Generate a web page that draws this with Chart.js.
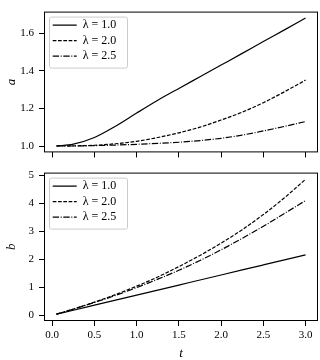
<!DOCTYPE html>
<html>
<head>
<meta charset="utf-8">
<script src="https://cdn.jsdelivr.net/npm/chart.js@4.4.1/dist/chart.umd.min.js"></script>
<style>
  html, body { margin: 0; padding: 0; background: #fff; }
  #wrap { position: relative; width: 320px; height: 360px; }
  #topBox { position: absolute; left: 0; top: 0; width: 320px; height: 164px; }
  #botBox { position: absolute; left: 0; top: 161px; width: 320px; height: 199px; }
</style>
</head>
<body>
<div id="wrap">
  <div id="topBox"><canvas id="chartA" width="320" height="164"></canvas></div>
  <div id="botBox"><canvas id="chartB" width="320" height="199"></canvas></div>
</div>
<script>
// values
const tValues = [0.05, 0.25, 0.5, 0.75, 1.0, 1.25, 1.5, 1.75, 2.0, 2.25, 2.5, 2.75, 3.0];
const lambdaLabels = ['λ = 1.0', 'λ = 2.0', 'λ = 2.5'];

const aLam10 = [1.000, 1.010, 1.045, 1.105, 1.175, 1.243, 1.306, 1.368, 1.430, 1.492, 1.555, 1.617, 1.680];
const aLam20 = [1.000, 1.001, 1.004, 1.012, 1.025, 1.045, 1.070, 1.100, 1.138, 1.180, 1.230, 1.288, 1.350];
const aLam25 = [1.000, 1.000, 1.002, 1.005, 1.009, 1.014, 1.020, 1.029, 1.041, 1.058, 1.080, 1.104, 1.130];

const bLam10 = [0.04, 0.18, 0.36, 0.54, 0.72, 0.90, 1.08, 1.26, 1.44, 1.62, 1.80, 1.98, 2.16];
const bLam20 = [0.04, 0.22, 0.47, 0.74, 1.04, 1.37, 1.74, 2.14, 2.58, 3.06, 3.60, 4.20, 4.86];
const bLam25 = [0.04, 0.22, 0.46, 0.71, 0.99, 1.29, 1.61, 1.96, 2.34, 2.75, 3.18, 3.64, 4.10];

const xTicks = [0.0, 0.5, 1.0, 1.5, 2.0, 2.5, 3.0];
const aTicks = [1.0, 1.2, 1.4, 1.6];
const bTicks = [0, 1, 2, 3, 4, 5];

const dashes = [[], [3.7, 1.6], [6.4, 1.6, 1, 1.6]];
const serif = "'Liberation Serif', 'DejaVu Serif', serif";
const lineW = 1.2;

Chart.defaults.color = '#000';
Chart.defaults.font.family = serif;

function pairs(ys) {
  return tValues.map((t, i) => ({x: t, y: ys[i]}));
}

function makeSets(series) {
  return series.map((ys, i) => ({
    label: lambdaLabels[i],
    data: pairs(ys),
    borderColor: '#000',
    backgroundColor: '#000',
    borderWidth: lineW,
    borderDash: dashes[i],
    pointRadius: 0,
    cubicInterpolationMode: 'monotone',
    fill: false
  }));
}

// legend entries keep the dash pattern of their dataset
function legendItems(chart) {
  return chart.data.datasets.map((ds, i) => ({
    text: ds.label,
    datasetIndex: i,
    fillStyle: ds.borderColor,
    strokeStyle: ds.borderColor,
    fontColor: '#000',
    lineWidth: ds.borderWidth,
    lineDash: ds.borderDash,
    pointStyle: 'line',
    hidden: false
  }));
}

// spines + legend frame
const frames = {
  id: 'frames',
  afterLayout(chart) {
    const lg = chart.legend, ca = chart.chartArea;
    lg.left = ca.left + 5.2;
    lg.top = ca.top + 4;
    lg.right = ca.right;
    lg.bottom = ca.bottom;
  },
  beforeDraw(chart) {
    const ctx = chart.ctx, ca = chart.chartArea;
    ctx.save();
    ctx.beginPath();
    ctx.roundRect(ca.left + 5.5, ca.top + 5.5, 78, 51, 2);
    ctx.fillStyle = 'rgba(255,255,255,0.8)';
    ctx.fill();
    ctx.strokeStyle = '#cccccc';
    ctx.lineWidth = 1;
    ctx.stroke();
    ctx.restore();
  },
  afterDraw(chart) {
    const ctx = chart.ctx, ca = chart.chartArea;
    ctx.save();
    ctx.strokeStyle = '#000';
    ctx.lineWidth = 1;
    ctx.strokeRect(ca.left + 0.5, ca.top + 0.5, ca.width - 1, ca.height - 1);
    ctx.restore();
  }
};

function build(id, series, yTicks, yMin, yMax, yTitle, yFmt, bottomAxis, padTop, axisH) {
  return new Chart(document.getElementById(id), {
    type: 'line',
    data: {datasets: makeSets(series)},
    options: {
      responsive: false,
      animation: false,
      layout: {padding: {top: padTop, right: 2, left: 0, bottom: 0}},
      plugins: {
        tooltip: {enabled: false},
        legend: {
          position: 'chartArea',
          align: 'start',
          labels: {
            usePointStyle: true,
            pointStyle: 'line',
            pointStyleWidth: 24,
            padding: 3.5,
            color: '#000',
            font: {family: serif, size: 12},
            generateLabels: legendItems
          }
        }
      },
      scales: {
        x: {
          type: 'linear',
          min: -0.0975,
          max: 3.1475,
          afterBuildTicks: s => { s.ticks = xTicks.map(v => ({value: v})); },
          afterFit: s => { s.height = axisH; },
          grid: {drawOnChartArea: false, drawTicks: true, tickLength: 5, color: '#000', lineWidth: 1},
          border: {display: false},
          ticks: {
            display: bottomAxis,
            padding: 2.5,
            color: '#000',
            font: {family: serif, size: 11},
            maxRotation: 0,
            callback: v => v.toFixed(1)
          },
          title: {
            display: bottomAxis,
            text: 't',
            color: '#000',
            font: {family: serif, size: 13, style: 'italic', lineHeight: 1},
            padding: {top: 0, bottom: 0}
          }
        },
        y: {
          type: 'linear',
          min: yMin,
          max: yMax,
          afterBuildTicks: s => { s.ticks = yTicks.map(v => ({value: v})); },
          afterFit: s => { s.width = 44; },
          grid: {drawOnChartArea: false, drawTicks: true, tickLength: 5, color: '#000', lineWidth: 1},
          border: {display: false},
          ticks: {
            padding: 5,
            color: '#000',
            font: {family: serif, size: 11},
            callback: yFmt
          },
          title: {
            display: true,
            text: yTitle,
            color: '#000',
            font: {family: serif, size: 13, style: 'italic', lineHeight: 1},
            padding: {top: 5, bottom: 0}
          }
        }
      }
    },
    plugins: [frames]
  });
}

build('chartA', [aLam10, aLam20, aLam25], aTicks, 0.966, 1.714, 'a', v => v.toFixed(1), false, 1, 6);
build('chartB', [bLam10, bLam20, bLam25], bTicks, -0.205, 5.10, 'b', v => String(v), true, 3, 39);
</script>
</body>
</html>
